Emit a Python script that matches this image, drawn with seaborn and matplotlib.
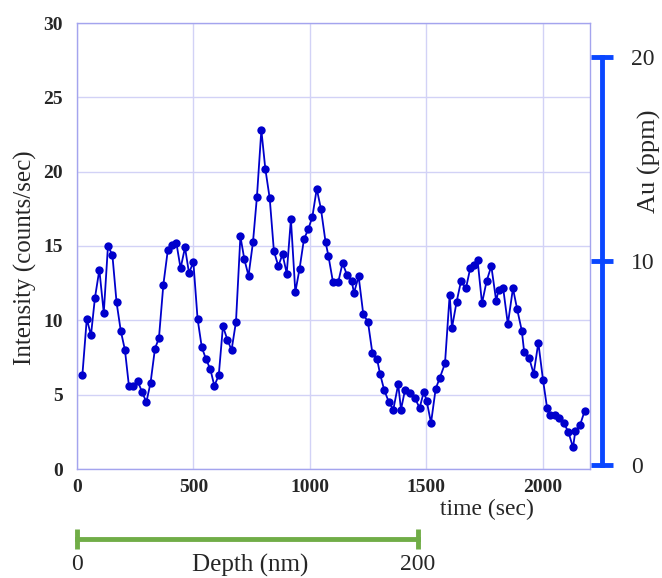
"""Depth profile: intensity vs. sputter time, with Au (ppm) and depth scale bars."""

import matplotlib

matplotlib.use("Agg")
import seaborn as sns
from matplotlib import pyplot as plt

# sputter time (sec) and measured intensity (counts/sec)
time_sec = [23, 42, 60, 77, 96, 115, 133, 152, 170, 188,
            206, 223, 242, 261, 279, 298, 316, 335, 352, 371,
            390, 408, 427, 445, 464, 481, 500, 518, 536, 554,
            573, 590, 609, 627, 646, 664, 683, 702, 719, 737,
            756, 773, 792, 809, 828, 846, 865, 883, 901, 919,
            938, 956, 975, 994, 1011, 1030, 1048, 1068, 1080, 1100,
            1122, 1141, 1160, 1180, 1190, 1210, 1230, 1250, 1269, 1289,
            1302, 1320, 1340, 1359, 1380, 1392, 1409, 1430, 1451, 1472,
            1490, 1502, 1521, 1541, 1558, 1581, 1601, 1611, 1631, 1650,
            1671, 1690, 1705, 1721, 1740, 1760, 1780, 1801, 1811, 1831,
            1851, 1873, 1891, 1911, 1921, 1942, 1962, 1982, 2002, 2020,
            2032, 2052, 2072, 2091, 2111, 2131, 2141, 2161, 2181]
intensity = [6.3, 10.1, 9.0, 11.5, 13.4, 10.5, 15.0, 14.4, 11.2, 9.3,
             8.0, 5.6, 5.55, 5.9, 5.2, 4.5, 5.8, 8.1, 8.8, 12.4,
             14.7, 15.1, 15.2, 13.5, 14.9, 13.2, 13.9, 10.1, 8.2, 7.4,
             6.7, 5.6, 6.3, 9.6, 8.7, 8.0, 9.9, 15.65, 14.1, 13.0,
             15.25, 18.3, 22.8, 20.2, 18.2, 14.65, 13.65, 14.45, 13.15, 16.8,
             11.9, 13.45, 15.45, 16.15, 16.95, 18.85, 17.5, 15.25, 14.35, 12.55,
             12.55, 13.85, 13.05, 12.65, 11.85, 12.95, 10.4, 9.9, 7.8, 7.4,
             6.4, 5.3, 4.5, 4.0, 5.7, 4.0, 5.3, 5.1, 4.8, 4.1,
             5.2, 4.6, 3.1, 5.4, 6.1, 7.1, 11.7, 9.5, 11.25, 12.65,
             12.15, 13.55, 13.7, 14.05, 11.15, 12.65, 13.65, 11.3, 12.05, 12.15,
             9.75, 12.15, 10.75, 9.3, 7.9, 7.5, 6.4, 8.5, 6.0, 4.07,
             3.6, 3.6, 3.4, 3.1, 2.5, 1.45, 2.55, 2.95, 3.9]

intensity_ticks = [0, 5, 10, 15, 20, 25, 30]
time_ticks = [0, 500, 1000, 1500, 2000]
au_ticks = [0, 10, 20]
depth_ticks = [0, 200]

LINE_BLUE = "#0000cc"
AXIS_BLUE = "#0a47ff"
GREEN = "#70ad47"
GRID = "#d2d2f6"
FRAME = "#a4a4ee"

sns.set_style("white")
plt.rcParams["font.family"] = ["Liberation Serif", "DejaVu Serif"]

fig = plt.figure(figsize=(6.62, 5.78), dpi=100)
ax = fig.add_axes([77 / 662, 1 - 469 / 578, 513 / 662, 446 / 578])

sns.lineplot(x=time_sec, y=intensity, ax=ax, color=LINE_BLUE, linewidth=1.3,
             marker="o", markersize=6, markeredgewidth=0, sort=False, estimator=None)

ax.set_xlim(0, 2204)
ax.set_ylim(0, 30)
ax.set_xticks(time_ticks)
ax.set_yticks(intensity_ticks)
ax.grid(True, color=GRID, linewidth=1.0)
for side in ax.spines.values():
    side.set_color(FRAME)
    side.set_linewidth(1.0)
ax.tick_params(axis="y", length=0, labelsize=14, pad=10)
ax.tick_params(axis="x", length=0, labelsize=14, pad=7)
for lbl in ax.get_xticklabels() + ax.get_yticklabels():
    lbl.set_fontweight("bold")

ax.set_xlabel("time (sec)", fontsize=17)
ax.xaxis.set_label_coords(0.80, -0.066)
ax.set_ylabel("Intensity (counts/sec)", fontsize=18)
ax.yaxis.set_label_coords(-0.078, 0.473)

# Au (ppm) scale bar on the right
ax2 = ax.twinx()
ax2.set_ylim(-0.196, 21.667)
ax2.set_yticks(au_ticks)
for name in ("top", "bottom", "left"):
    ax2.spines[name].set_visible(False)
rs = ax2.spines["right"]
rs.set_position(("outward", 8.6))
rs.set_bounds(0, 20)
rs.set_color(AXIS_BLUE)
rs.set_linewidth(3.5)
ax2.tick_params(axis="y", right=True, direction="inout", length=16, width=3.5,
                color=AXIS_BLUE, labelsize=17, pad=13)
ax2.set_ylabel("Au (ppm)", fontsize=19)
ax2.yaxis.set_label_coords(1.094, 0.69)

# depth scale bar below
dax = fig.add_axes([77 / 662, 1 - 539 / 578, 341 / 662, 0.0001])
dax.patch.set_visible(False)
for name in ("top", "left", "right"):
    dax.spines[name].set_visible(False)
dax.spines["bottom"].set_color(GREEN)
dax.spines["bottom"].set_linewidth(3.5)
dax.set_xlim(0, 200)
dax.set_xticks(depth_ticks)
dax.set_yticks([])
dax.tick_params(axis="x", bottom=True, direction="inout", length=14, width=3.5,
                color=GREEN, labelsize=17, pad=4)
fig.text(250 / 662, 1 - 554 / 578, "Depth (nm)", ha="center", va="top", fontsize=18)

fig.savefig("out.png", dpi=100)
